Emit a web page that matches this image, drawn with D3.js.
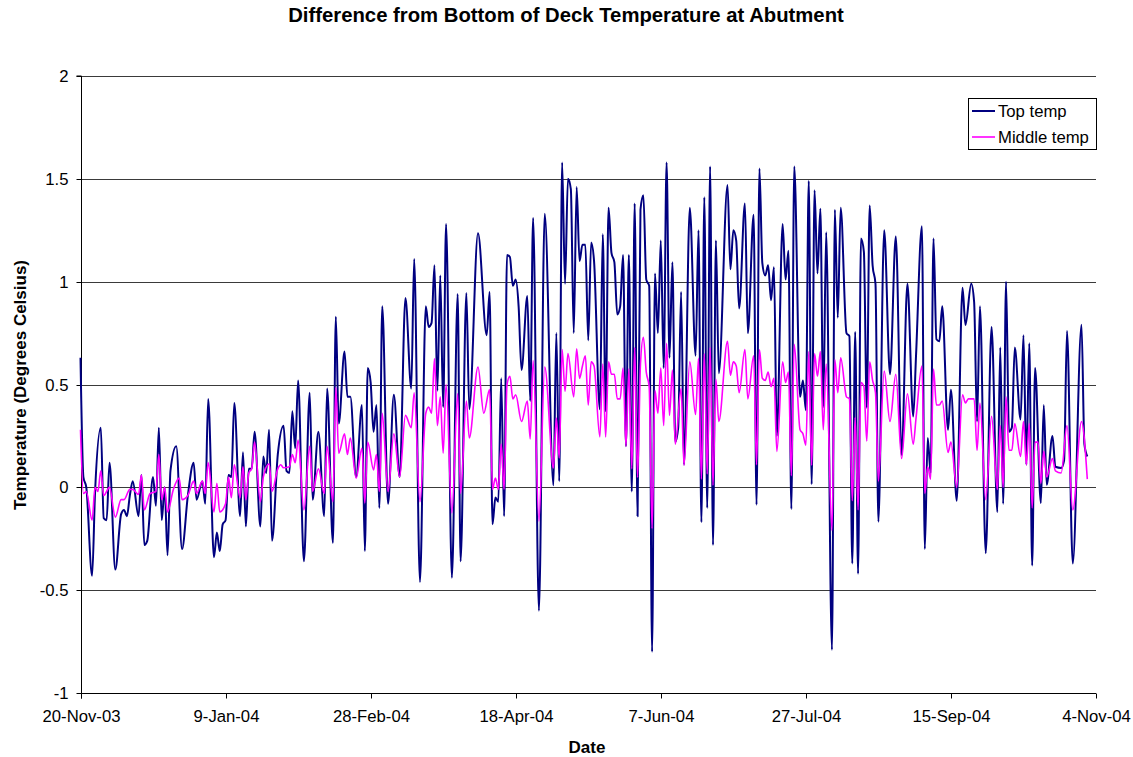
<!DOCTYPE html>
<html><head><meta charset="utf-8">
<script src="https://cdn.jsdelivr.net/npm/d3@7"></script>
<style>body{margin:0;background:#fff}svg{display:block}text{font-family:"Liberation Sans",Arial,sans-serif}</style>
</head><body><svg id="c" width="1133" height="757"></svg>
<script>
const startDate = "2003-11-20";
const endDate = "2004-11-04";
const yTicks = [-1, -0.5, 0, 0.5, 1, 1.5, 2];
const seriesNames = ["Top temp", "Middle temp"];
const topDays = [0,1,2,4,5,7,8,9,10,12,14,15,16,17,18,20,21,22,23,25,26,27,28,29,30,31,33,35,37,39,40,42,43,44,46,47,48,49,50,51,52,53,55,56,57,58,59,60,62,63,64,65,66,68,70,71,72,73,74,75,77,79,80,82,84,85,87,88,89,91,92,93,95,97,98,99,100,101,102,103,104,106,108,110,112,114,115,117,119,120,121,122,123,124,125,126,128,130,131,133,134,137,140,141,142,143,144,145,146,147,148,149,150,151,152,154,155,156,158,160,163,164,165,166,167,168,169,170,171,172,173,174,175,176,177,179,180,181,182,183,184,185,186,187,188,189,190,191,192,193,194,195,196,197,198,199,200,201,202,203,204,205,206,207,208,210,212,213,214,215,216,217,218,219,220,223,224,225,226,227,229,230,232,233,234,235,236,237,238,239,240,242,243,244,245,246,248,249,250,251,252,253,254,255,256,257,259,260,261,262,264,265,266,267,268,269,270,271,272,273,274,275,277,279,281,283,285,287,288,290,291,292,293,294,295,296,297,299,300,302,304,305,307,308,309,310,312,314,316,317,318,319,320,321,322,324,325,326,327,328,329,331,332,333,335,336,338,339,340,342,345,346,347];
const topTemp = [0.63,0.05,0.0,-0.43,-0.03,0.29,-0.15,-0.16,0.12,-0.40,-0.13,-0.11,-0.14,-0.04,0.03,-0.14,0.06,-0.28,-0.26,0.05,-0.09,0.29,-0.16,0.0,-0.33,0.08,0.20,-0.30,-0.04,0.12,-0.06,0.03,-0.08,0.43,-0.34,-0.22,-0.31,-0.18,-0.16,0.06,0.05,0.41,-0.14,0.17,-0.19,0.09,0.09,0.27,-0.19,0.15,0.07,0.28,-0.26,0.16,0.30,0.08,0.07,0.37,0.19,0.52,-0.36,0.46,-0.06,0.27,-0.14,0.48,-0.27,0.83,0.31,0.66,0.44,0.44,0.05,0.40,-0.31,0.58,0.51,0.27,0.40,-0.10,0.88,-0.08,0.45,0.05,0.92,0.48,1.11,-0.46,0.88,0.78,0.80,1.08,0.47,1.03,0.39,1.28,-0.44,0.94,-0.36,0.945,0.38,1.235,0.74,0.95,-0.18,-0.05,-0.07,0.53,-0.14,1.13,1.12,0.98,1.01,0.88,0.57,0.93,0.42,1.31,-0.60,1.33,0.01,0.75,0.03,1.58,0.99,1.50,1.45,0.75,1.46,1.10,1.18,1.18,0.715,1.19,1.10,0.38,1.23,0.37,1.36,1.14,1.095,0.84,0.88,1.13,0.20,1.13,-0.02,1.38,-0.14,1.35,1.42,1.01,0.98,-0.80,1.04,0.75,1.20,0.58,1.58,0.63,1.095,0.22,0.29,0.95,0.11,1.36,0.64,1.25,-0.17,1.41,-0.10,1.56,-0.28,1.20,0.555,1.47,1.06,1.25,1.20,0.87,1.38,0.75,1.325,-0.085,1.55,1.09,1.03,1.08,0.91,1.07,0.25,1.28,1.01,1.15,-0.105,1.56,0.44,0.52,0.375,1.49,0.015,1.445,1.04,1.355,0.39,1.24,-0.79,1.35,0.825,1.36,0.75,0.735,-0.37,0.755,-0.42,1.21,1.145,0.387,1.37,1.08,0.99,-0.167,1.25,0.55,1.22,0.157,0.99,0.344,0.65,1.27,-0.30,0.24,0.07,1.21,0.72,0.71,0.88,0.28,0.475,-0.065,0.97,0.79,0.99,0.90,0.32,0.88,-0.32,0.78,-0.12,0.68,-0.08,1.00,0.27,0.29,0.68,0.33,0.74,0.11,0.70,-0.38,0.58,-0.076,0.40,0.013,0.25,0.10,0.094,0.13,0.76,-0.37,0.79,0.21,0.15];
const midDays = [0,1,2,4,5,6,7,8,10,12,14,15,17,18,20,21,22,24,26,27,28,29,30,32,34,35,37,39,40,42,43,44,46,47,48,50,51,52,53,55,56,57,58,59,60,62,63,65,66,68,69,70,72,73,74,75,77,79,80,82,84,85,87,88,89,91,92,93,95,97,98,99,101,102,103,104,106,108,110,112,114,115,117,119,120,121,122,123,124,125,126,128,130,131,133,134,137,139,141,142,143,144,145,146,147,148,149,150,152,154,155,156,158,160,163,164,165,166,167,168,170,171,172,173,174,175,176,177,179,180,181,182,183,184,185,186,187,188,189,190,191,192,193,194,195,196,197,198,199,200,201,202,203,204,205,207,208,210,212,213,214,215,216,217,218,219,220,223,224,225,226,227,229,230,232,233,234,235,236,237,238,239,240,242,243,244,245,246,248,249,250,251,252,253,254,255,256,257,259,260,261,262,264,265,266,267,268,269,270,271,272,273,274,275,277,279,281,283,285,287,288,290,291,292,293,294,295,296,297,299,300,302,304,305,306,307,308,309,310,312,314,316,317,318,319,320,321,322,324,325,326,327,328,329,330,331,332,333,335,336,338,340,342,345,347];
const midTemp = [0.28,-0.03,-0.02,-0.16,0.0,-0.02,0.08,-0.04,0.0,-0.145,-0.06,-0.06,-0.01,-0.01,-0.035,0.06,-0.11,-0.03,-0.02,0.16,-0.06,0.0,-0.12,-0.01,0.045,-0.06,-0.04,0.03,-0.03,0.03,-0.03,0.12,-0.12,0.02,-0.12,-0.08,0.05,-0.05,0.11,-0.05,0.10,-0.06,0.07,0.09,0.22,-0.07,0.05,0.115,-0.02,0.09,0.11,0.095,0.10,0.16,0.12,0.23,-0.11,0.20,-0.02,0.09,-0.03,0.20,-0.07,0.485,0.166,0.26,0.16,0.24,0.045,0.19,-0.076,0.22,0.085,0.16,-0.02,0.36,-0.02,0.26,0.05,0.35,0.29,0.46,-0.07,0.36,0.39,0.36,0.626,0.30,0.44,0.166,0.50,-0.124,0.456,-0.03,0.42,0.24,0.585,0.36,0.475,-0.01,0.045,-0.01,0.21,-0.01,0.50,0.54,0.43,0.45,0.32,0.42,0.235,0.616,-0.165,0.585,0.094,0.337,0.143,0.67,0.467,0.65,0.44,0.674,0.53,0.59,0.64,0.40,0.61,0.59,0.245,0.60,0.245,0.61,0.55,0.55,0.43,0.43,0.58,0.20,0.576,0.09,0.68,0.048,0.60,0.73,0.56,0.49,-0.20,0.47,0.36,0.58,0.30,0.70,0.35,0.57,0.21,0.48,0.107,0.61,0.354,0.627,0.04,0.65,0.065,0.68,0.01,0.525,0.32,0.71,0.545,0.61,0.59,0.46,0.67,0.43,0.64,0.11,0.67,0.53,0.52,0.56,0.49,0.53,0.175,0.61,0.51,0.56,0.056,0.695,0.28,0.26,0.205,0.66,0.107,0.65,0.54,0.66,0.28,0.60,-0.21,0.62,0.46,0.63,0.44,0.43,-0.065,0.34,-0.11,0.51,0.49,0.225,0.61,0.52,0.46,0.03,0.565,0.32,0.55,0.14,0.455,0.21,0.34,0.59,-0.03,0.10,0.04,0.575,0.40,0.40,0.42,0.17,0.22,0.0,0.45,0.41,0.43,0.43,0.43,0.18,0.41,-0.06,0.345,-0.01,0.30,0.0,0.44,0.18,0.18,0.31,0.15,0.32,0.11,0.31,-0.10,0.22,0.22,0.02,0.175,0.05,0.14,0.08,0.07,0.30,-0.11,0.32,0.04];

const parse = d3.utcParse("%Y-%m-%d");
const t0 = parse(startDate), t1 = parse(endDate);
const svg = d3.select("#c");
svg.append("rect").attr("width",1133).attr("height",757).attr("fill","#fff");

const L = 80.5, R = 1096, T = 76, B = 693;
const x = d3.scaleUtc().domain([t0, t1]).range([L, R]);
const y = d3.scaleLinear().domain([-1, 2]).range([B, T]);
const px = v => Math.round(v) + 0.5;
const FONT = '"Liberation Sans",Arial,sans-serif';

// gridlines
svg.append("g").selectAll("line").data(yTicks.filter(v => v !== -1)).join("line")
  .attr("x1", L).attr("x2", R).attr("y1", d => px(y(d))).attr("y2", d => px(y(d)))
  .attr("stroke", "#3a3a3a").attr("stroke-width", 1);

// axes
const fmt = d3.utcFormat("%-d-%b-%y");
const xTicks = d3.range(0, 351, 50).map(d => d3.utcDay.offset(t0, d));
const xa = svg.append("g").attr("transform", `translate(0,${px(B)})`)
  .call(d3.axisBottom(x).tickValues(xTicks).tickFormat(fmt).tickSize(5).tickPadding(12));
xa.selectAll("line").attr("stroke", "#000");
xa.select(".domain").attr("stroke", "#000");
xa.selectAll("text").attr("font-size", "16.7px").attr("fill", "#000").attr("font-family", FONT);
xa.selectAll(".tick").attr("transform", d => `translate(${px(x(d))},0)`);

const ya = svg.append("g").attr("transform", `translate(${px(L)},0)`)
  .call(d3.axisLeft(y).tickValues(yTicks).tickFormat(d => String(d)).tickSize(5).tickPadding(8));
ya.selectAll("line").attr("stroke", "#000");
ya.select(".domain").attr("stroke", "#000");
ya.selectAll("text").attr("font-size", "16.7px").attr("fill", "#000").attr("font-family", FONT);
ya.selectAll(".tick").attr("transform", d => `translate(0,${px(y(d))})`);
ya.select(".domain").attr("d", `M-5,${px(T)-0.5}H0V${px(B)}`);
xa.select(".domain").attr("d", `M${px(L)},5V0H${R}`);

// lines
const line = d3.line().curve(d3.curveMonotoneX).x(d => x(d.t)).y(d => y(d.v));
const topData = topDays.map((d, i) => ({t: d3.utcDay.offset(t0, d), v: topTemp[i]}));
const midData = midDays.map((d, i) => ({t: d3.utcDay.offset(t0, d), v: midTemp[i]}));
const colors = ["#000080", "#ff00ff"];
svg.append("path").datum(topData).attr("d", line).attr("fill", "none").attr("stroke", colors[0]).attr("stroke-width", 2).attr("stroke-linejoin","round");
svg.append("path").datum(midData).attr("d", line).attr("fill", "none").attr("stroke", colors[1]).attr("stroke-width", 1.6).attr("stroke-linejoin","round");

// titles
svg.append("text").attr("x", 566).attr("y", 22).attr("text-anchor", "middle")
  .attr("font-weight", "bold").attr("font-size", "20.3px")
  .text("Difference from Bottom of Deck Temperature at Abutment");
svg.append("text").attr("x", 587).attr("y", 753).attr("text-anchor", "middle")
  .attr("font-weight", "bold").attr("font-size", "17px").text("Date");
svg.append("text").attr("transform", "translate(26,385) rotate(-90)").attr("text-anchor", "middle")
  .attr("font-weight", "bold").attr("font-size", "17px").text("Temperature (Degrees Celsius)");

// legend
const lg = svg.append("g");
lg.append("rect").attr("x", 968.5).attr("y", 98.5).attr("width", 128).attr("height", 51)
  .attr("fill", "#fff").attr("stroke", "#000").attr("stroke-width", 1);
seriesNames.forEach((n, i) => {
  const yy = 111 + i * 26;
  lg.append("line").attr("x1", 972).attr("x2", 995).attr("y1", yy).attr("y2", yy)
    .attr("stroke", colors[i]).attr("stroke-width", i ? 1.6 : 2);
  lg.append("text").attr("x", 998).attr("y", yy + 6).attr("font-size", "16.7px").text(n);
});
</script></body></html>
